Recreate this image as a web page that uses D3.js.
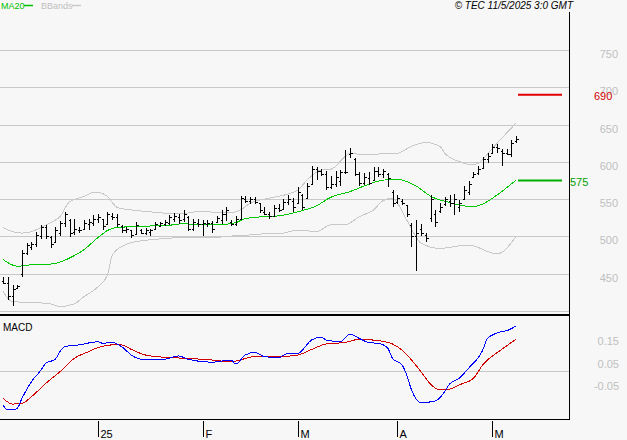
<!DOCTYPE html>
<html>
<head>
<meta charset="utf-8">
<script src="https://cdn.jsdelivr.net/npm/d3@7"></script>
<style>
  body { margin: 0; background: #f7f7f7; }
  svg { display: block; }
</style>
</head>
<body>
<div id="chart"></div>
<script>
// daily bars, Dec 2024 -> 9 May 2025 : [high, low, open, close]
const bars = [
  [445,436,440,438],[445,415,438,420],[435,407,420,430],[435,429,431,433],[482,446,450,478],
  [491,475,478,488],[493,482,486,490],[506,486,490,502],[515,496,500,512],[515,497,512,500],
  [501,485,499,490],[512,491,492,508],[521,500,505,518],[533,513,518,530],[524,499,522,505],
  [524,502,506,510],[512,505,508,509],[522,509,510,518],[524,509,516,520],[529,514,518,524],
  [530,518,524,526],[524,509,524,514],[533,515,516,530],[531,522,528,526],[530,512,526,516],
  [515,505,514,508],[513,504,508,510],[509,498,508,502],[519,502,503,515],[510,503,508,505],
  [511,502,505,508],[510,501,506,508],[519,509,510,516],[520,512,514,518],[522,514,516,520],
  [529,515,518,526],[531,519,524,528],[530,517,526,522],[535,520,524,530],[528,507,526,510],
  [524,507,510,520],[524,513,518,516],[522,501,516,518],[522,513,516,518],[521,505,518,510],
  [528,518,520,525],[535,517,522,530],[540,521,530,536],[522,514,520,516],[528,514,516,524],
  [554,522,524,552],[554,545,550,548],[553,544,548,550],[553,544,550,546],[545,531,545,535],
  [539,529,533,530],[533,524,530,527],[542,527,528,538],[543,533,538,536],[550,535,537,546],
  [556,542,546,550],[552,533,548,540],[566,544,545,560],[557,536,556,540],[571,551,552,568],
  [594,569,570,590],[593,576,590,588],[591,581,588,584],[588,562,584,566],[581,563,566,570],
  [588,566,570,580],[589,568,574,586],[616,584,586,586],[618,605,610,612],[605,581,604,584],
  [587,568,584,572],[585,569,572,580],[586,569,578,572],[593,575,576,588],[593,580,588,584],
  [591,579,584,588],[585,566,584,578],[562,540,560,545],[556,544,546,552],[550,542,548,545],
  [542,526,542,530],[518,486,515,500],[522,453,500,505],[517,501,510,505],[505,493,502,498],
  [556,520,525,550],[536,513,530,520],[545,532,534,540],[553,541,543,550],[556,540,548,545],
  [557,529,545,550],[549,533,540,545],[567,549,550,562],[574,556,560,570],[586,578,580,584],
  [594,583,585,590],[607,590,592,604],[612,599,604,608],[624,612,612,620],[624,612,620,618],
  [617,595,615,612],[617,609,612,610],[629,606,610,625],[635,625,628,630]
];

// MA20 read at bar index
const maIdx = [0,3,6,10,12,14,17,20,22,24,27,31,35,38,42,45,49,51,55,58,62,66,69,73,76,80,83,87,90,94,97,99,101,104,108];
const maVal = [469,460,462,463,465.5,471,482,498.5,508,512,513,514,515,517,515.5,515.5,518.5,524,526.5,527.5,533,541,552.5,560,567.5,575.5,576.5,567.5,554,545.5,541,540,543.5,555.5,575.5];

// Bollinger bands
const upIdx = [0,2,4,6,8,10,12,14,17,19,20,22,24,27,31,35,38,42,45,48,50,52,55,57,62,64,67,69,72,73,76,79,83,86,89,92,93,96,99,100,103,106,108];
const upVal = [512,506.5,504.5,506.5,512,518.5,526.5,546.5,553.5,559,559,553.5,539,535.5,533,531,531,534,532,532,535.5,544.5,550,552.5,562,575.5,589,590,607,611.5,609.5,610.5,611.5,621,626,620.5,611.5,600.5,596,598,618,638.5,652];
const loIdx = [0,2,6,10,12,15,17,20,22,23,25,27,31,35,38,42,45,48,52,55,59,62,66,69,72,75,78,80,82,85,88,92,98,104,108];
const loVal = [426,412.5,411.5,409.5,406,409.5,419,432.5,448.5,475,486.5,491.5,495.5,497.5,499,499,499,500.5,502,503.5,504.5,508.5,506.5,515.5,515.5,526.5,535.5,548,551,522,491,484,488.5,476.5,500];

// MACD and signal
const macdIdx = [0,1,2,3,4,6,8,9,11,12,13,16,20,21,23,25,27,30,34,37,39,44,48,49,51,53,55,58,60,62,65,67,68,71,73,75,77,79,81,82,84,85,86,88,91,93,94,96,98,101,102,105,106,108];
const macdVal = [-0.151,-0.173,-0.173,-0.166,-0.121,-0.047,0.004,0.034,0.052,0.086,0.108,0.116,0.13,0.123,0.127,0.108,0.071,0.049,0.052,0.067,0.052,0.039,0.049,0.031,0.071,0.083,0.064,0.059,0.079,0.078,0.138,0.15,0.138,0.13,0.164,0.145,0.126,0.123,0.101,0.056,0.027,-0.018,-0.084,-0.141,-0.133,-0.092,-0.058,-0.033,0.012,0.093,0.145,0.175,0.179,0.2];
const sigIdx = [0,2,4,6,9,12,15,18,20,23,25,27,30,34,39,44,48,53,58,62,65,68,72,75,79,82,84,86,88,90,92,94,96,99,101,105,108];
const sigVal = [-0.121,-0.147,-0.144,-0.114,-0.055,-0.003,0.056,0.086,0.104,0.116,0.116,0.096,0.071,0.061,0.056,0.049,0.041,0.064,0.064,0.071,0.096,0.12,0.127,0.141,0.135,0.12,0.093,0.049,-0.003,-0.058,-0.084,-0.081,-0.062,-0.033,0.027,0.096,0.141];

const priceTicks = [450, 500, 550, 600, 650, 700, 750];
const priceGrid = [400, 450, 500, 550, 600, 650, 700, 750];
const macdTicks = [0.15, 0.05, -0.05];
const monthIdx = [20, 42, 62, 83, 103];
const monthLabels = ["25", "F", "M", "A", "M"];
const target = 690, maLast = 575;

const W = 627, H = 440;
const RIGHT = 569;
const GRID = "#c8c8c8";

const svg = d3.select("#chart").append("svg")
  .attr("width", W).attr("height", H)
  .style("font-family", "'Liberation Sans', Arial, sans-serif");

svg.append("rect").attr("width", W).attr("height", H).attr("fill", "#f7f7f7");

const x = d3.scaleLinear().domain([0, bars.length - 1]).range([3, 516]);
const y = d3.scaleLinear().domain([400, 750]).range([311, 50]);
const ym = d3.scaleLinear().domain([0, 0.1]).range([371, 348.5]);

// grid
svg.append("g").attr("shape-rendering", "crispEdges")
  .selectAll("line").data(priceGrid).join("line")
  .attr("x1", 0).attr("x2", RIGHT)
  .attr("y1", d => Math.round(y(d)) + 0.5).attr("y2", d => Math.round(y(d)) + 0.5)
  .attr("stroke", GRID).attr("stroke-width", 1);

svg.append("line").attr("shape-rendering", "crispEdges")
  .attr("x1", 0).attr("x2", RIGHT).attr("y1", Math.round(ym(0)) + 0.5).attr("y2", Math.round(ym(0)) + 0.5)
  .attr("stroke", GRID);

// panel frames
svg.append("line").attr("x1", 0).attr("x2", RIGHT + 1).attr("y1", 315).attr("y2", 315)
  .attr("stroke", "#000").attr("stroke-width", 2);
svg.append("line").attr("x1", 0).attr("x2", RIGHT + 1).attr("y1", 419.5).attr("y2", 419.5)
  .attr("stroke", "#000");
svg.append("line").attr("x1", RIGHT + 0.5).attr("x2", RIGHT + 0.5).attr("y1", 12).attr("y2", 420)
  .attr("stroke", "#000");

// right axis labels
svg.append("g").selectAll("text").data(priceTicks).join("text")
  .attr("x", 618).attr("y", d => y(d) + 8)
  .attr("text-anchor", "end").attr("font-size", 11).attr("fill", "#c0c0c0")
  .text(d => d);

svg.append("g").selectAll("text").data(macdTicks).join("text")
  .attr("x", 619).attr("y", d => ym(d) + 8)
  .attr("text-anchor", "end").attr("font-size", 11).attr("fill", "#c0c0c0")
  .text(d => d.toFixed(2));

// bollinger bands
const line = d3.line().curve(d3.curveMonotoneX);
const toPts = (idx, val, sy) => idx.map((d, i) => [x(d), sy(val[i])]);

const curves = svg.append("g").attr("fill", "none").attr("shape-rendering", "crispEdges");

curves.append("path").attr("d", line(toPts(upIdx, upVal, y)))
  .attr("stroke", "#c8c8c8").attr("stroke-width", 1);
curves.append("path").attr("d", line(toPts(loIdx, loVal, y)))
  .attr("stroke", "#c8c8c8").attr("stroke-width", 1);

// MA20
curves.append("path").attr("d", line(toPts(maIdx, maVal, y)))
  .attr("stroke", "#00c800").attr("stroke-width", 1);

// OHLC bars
const g = svg.append("g").attr("stroke", "#000").attr("shape-rendering", "crispEdges");
bars.forEach((b, i) => {
  const cx = Math.round(x(i)) + 0.5;
  g.append("line").attr("x1", cx).attr("x2", cx).attr("y1", y(b[0])).attr("y2", y(b[1])).attr("stroke-width", 1);
  g.append("line").attr("x1", cx - 2).attr("x2", cx).attr("y1", Math.round(y(b[2])) + 0.5).attr("y2", Math.round(y(b[2])) + 0.5);
  g.append("line").attr("x1", cx).attr("x2", cx + 2.5).attr("y1", Math.round(y(b[3])) + 0.5).attr("y2", Math.round(y(b[3])) + 0.5);
});

// target / last MA markers
svg.append("line").attr("x1", 518).attr("x2", 562).attr("y1", y(target)).attr("y2", y(target))
  .attr("stroke", "#e00000").attr("stroke-width", 2);
svg.append("text").attr("x", 594).attr("y", y(target) + 5).attr("font-size", 11)
  .attr("fill", "#d00000").text(target);
svg.append("line").attr("x1", 518).attr("x2", 562).attr("y1", y(maLast)).attr("y2", y(maLast))
  .attr("stroke", "#00b000").attr("stroke-width", 2);
svg.append("text").attr("x", 570).attr("y", y(maLast) + 5).attr("font-size", 11)
  .attr("fill", "#00a000").text(maLast);

// MACD
curves.append("path").attr("d", line(toPts(sigIdx, sigVal, ym)))
  .attr("stroke", "#d00000").attr("stroke-width", 1);
curves.append("path").attr("d", line(toPts(macdIdx, macdVal, ym)))
  .attr("stroke", "#0000ff").attr("stroke-width", 1);

svg.append("text").attr("x", 3).attr("y", 331).attr("font-size", 10).attr("fill", "#000").text("MACD");

// month ticks
const xa = svg.append("g");
monthIdx.forEach((d, i) => {
  const tx = Math.round(x(d)) + 0.5;
  xa.append("line").attr("x1", tx).attr("x2", tx).attr("y1", 421).attr("y2", 437).attr("stroke", "#000");
  xa.append("text").attr("x", tx + 2).attr("y", 438).attr("font-size", 11).attr("fill", "#000").text(monthLabels[i]);
});

// legend
svg.append("text").attr("x", 1).attr("y", 9).attr("font-size", 9).attr("fill", "#00c000").text("MA20");
svg.append("line").attr("x1", 24).attr("x2", 33).attr("y1", 5.5).attr("y2", 5.5).attr("stroke", "#00c000").attr("stroke-width", 1.5);
svg.append("text").attr("x", 41).attr("y", 9).attr("font-size", 9).attr("fill", "#c0c0c0").text("BBands");
svg.append("line").attr("x1", 72).attr("x2", 81).attr("y1", 5.5).attr("y2", 5.5).attr("stroke", "#c8c8c8").attr("stroke-width", 1.5);

svg.append("text").attr("x", 573).attr("y", 9).attr("text-anchor", "end")
  .attr("font-size", 10).attr("font-style", "italic").attr("fill", "#000")
  .text("© TEC 11/5/2025 3:0 GMT");
</script>
</body>
</html>
